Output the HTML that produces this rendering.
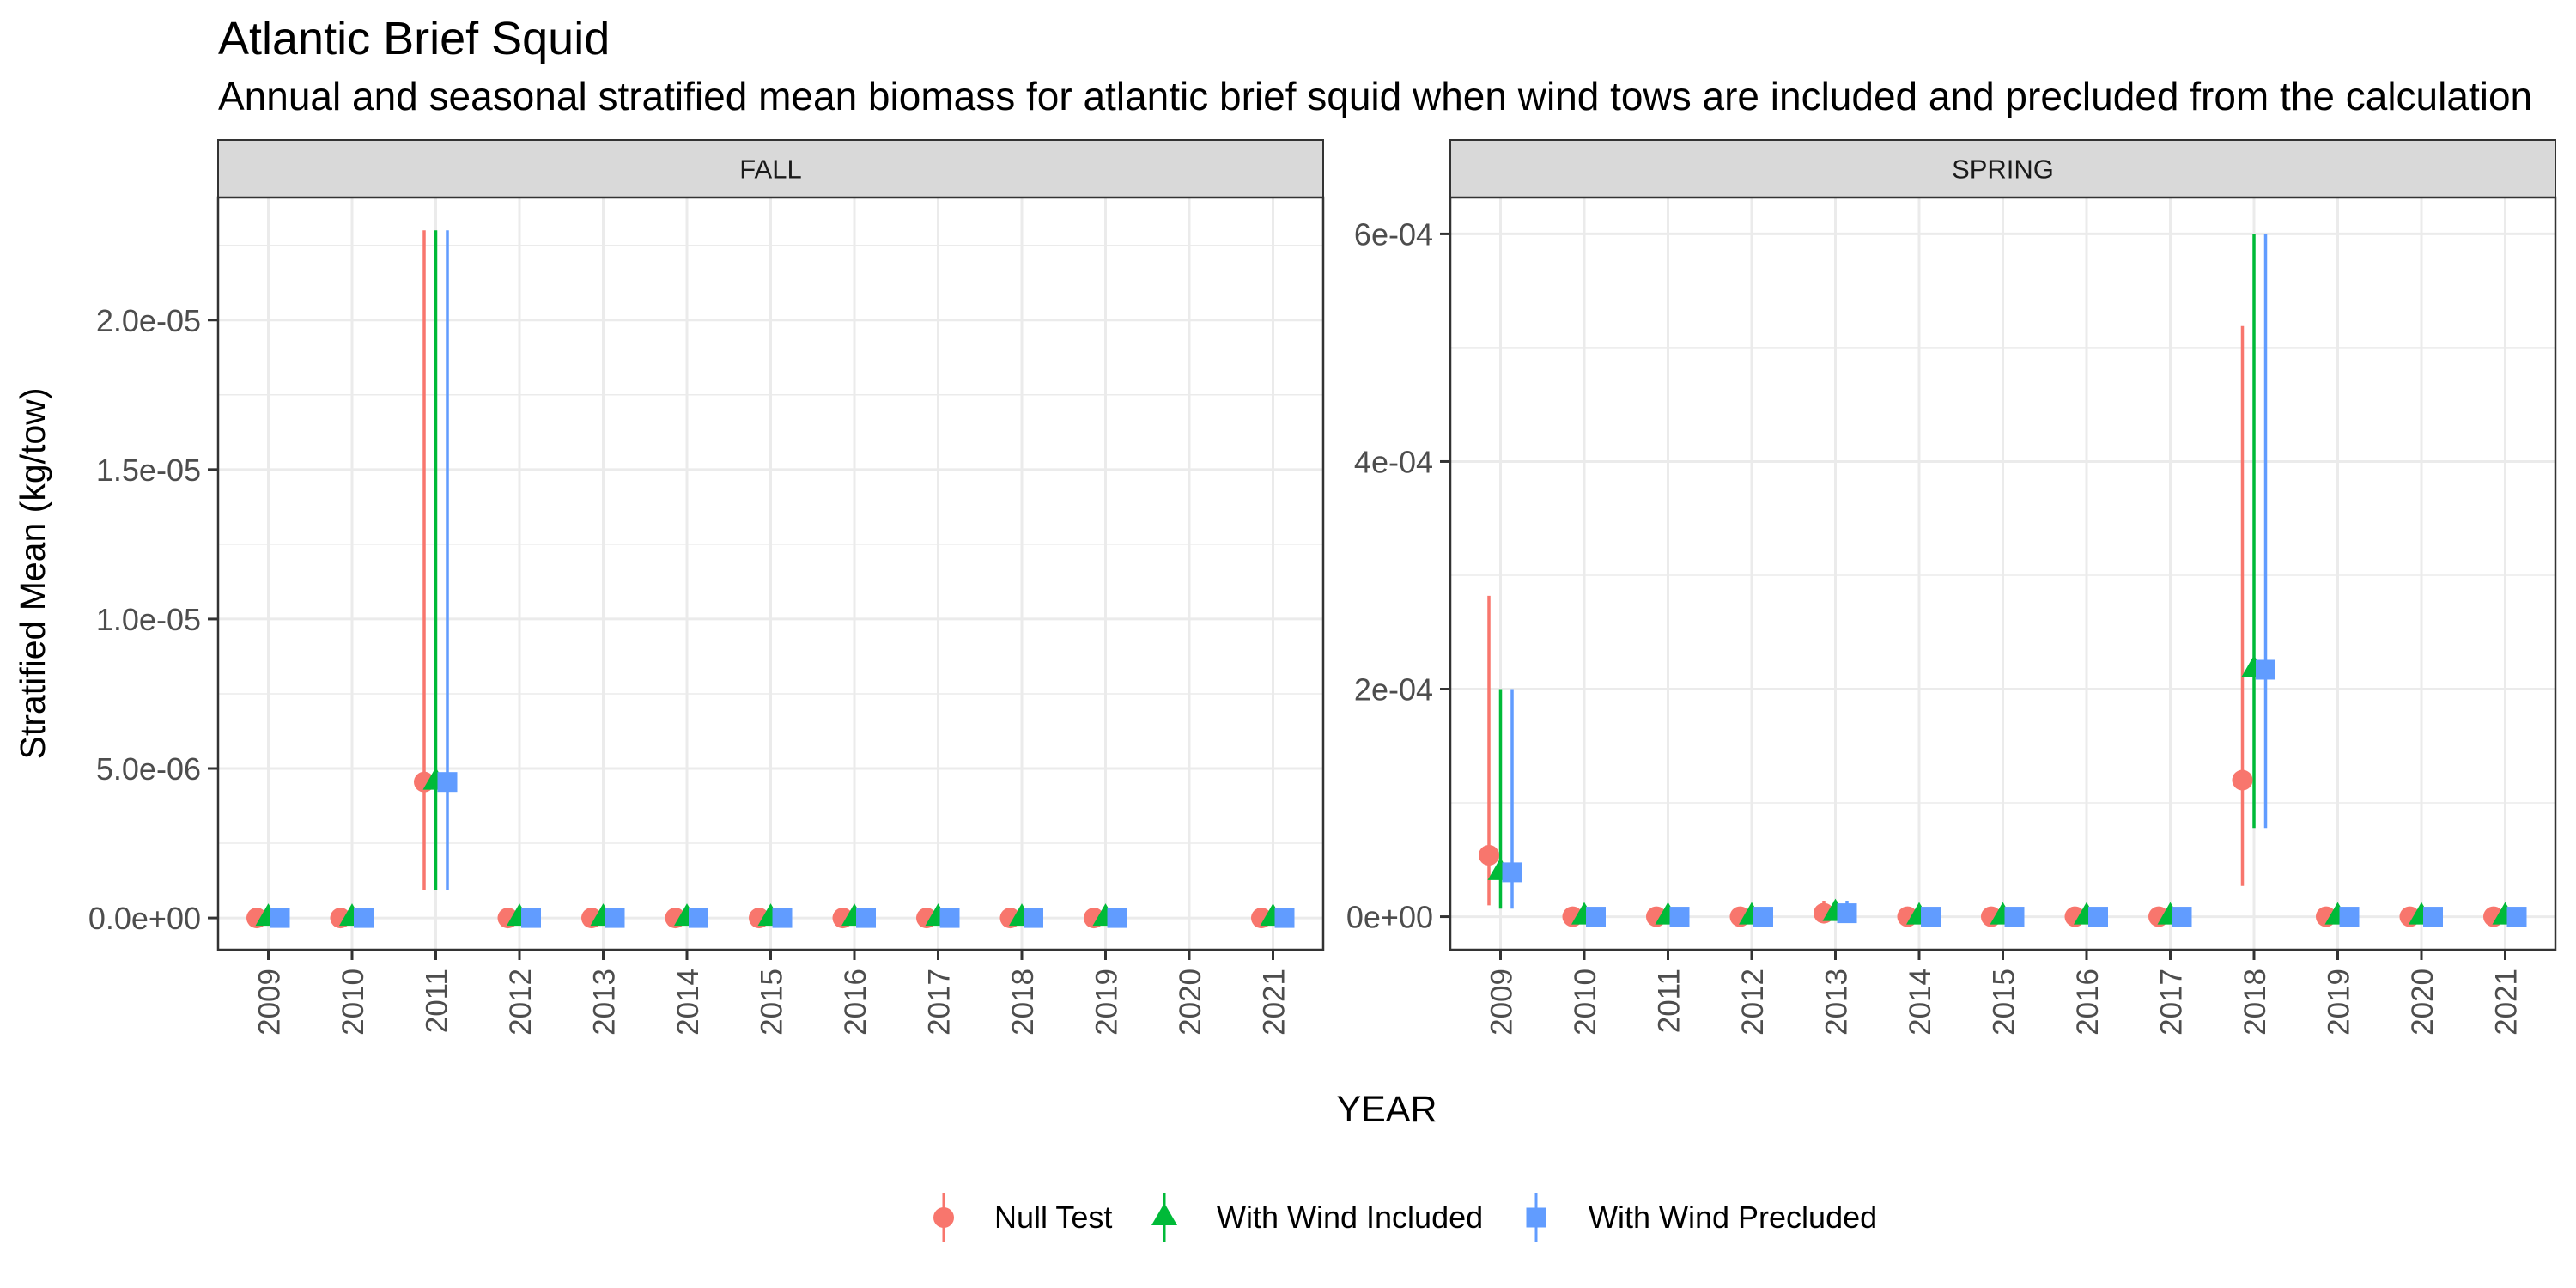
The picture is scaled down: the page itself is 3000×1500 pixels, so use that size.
<!DOCTYPE html>
<html><head><meta charset="utf-8">
<style>
html,body{margin:0;padding:0;background:#fff;}
svg{display:block;font-family:"Liberation Sans",Arial,sans-serif;}
</style></head>
<body>
<svg id="chart" width="3000" height="1500" viewBox="0 0 3000 1500" xmlns="http://www.w3.org/2000/svg">
<rect x="0" y="0" width="3000" height="1500" fill="#fff"/>
<text x="254" y="63" font-size="54" fill="#000">Atlantic Brief Squid</text>
<text x="254" y="128" font-size="46" fill="#000">Annual and seasonal stratified mean biomass for atlantic brief squid when wind tows are included and precluded from the calculation</text>
<text transform="translate(52,668) rotate(-90)" text-anchor="middle" font-size="41" fill="#000">Stratified Mean (kg/tow)</text>
<text x="1615" y="1306" text-anchor="middle" font-size="43" fill="#000">YEAR</text>
<g id="panels"></g>
<g id="legend"></g>
</svg>
<script>
const years = [2009,2010,2011,2012,2013,2014,2015,2016,2017,2018,2019,2020,2021];
const seriesNames = ["Null Test","With Wind Included","With Wind Precluded"];
const seriesColors = ["#F8766D","#00BA38","#619CFF"];
// FALL: mean, lower, upper per series (null = missing)
const fallNullMean = [0,0,4.55e-6,0,0,0,0,0,0,0,0,null,0];
const fallNullLo   = [0,0,0.92e-6,0,0,0,0,0,0,0,0,null,0];
const fallNullHi   = [0,0,2.30e-5,0,0,0,0,0,0,0,0,null,0];
const fallInclMean = [0,0,4.55e-6,0,0,0,0,0,0,0,0,null,0];
const fallInclLo   = [0,0,0.92e-6,0,0,0,0,0,0,0,0,null,0];
const fallInclHi   = [0,0,2.30e-5,0,0,0,0,0,0,0,0,null,0];
const fallPrecMean = [0,0,4.55e-6,0,0,0,0,0,0,0,0,null,0];
const fallPrecLo   = [0,0,0.92e-6,0,0,0,0,0,0,0,0,null,0];
const fallPrecHi   = [0,0,2.30e-5,0,0,0,0,0,0,0,0,null,0];
// SPRING
const springNullMean = [0.54e-4,0,0,0,0.03e-4,0,0,0,0,1.2e-4,0,0,0];
const springNullLo   = [0.10e-4,0,0,0,0,0,0,0,0,0.27e-4,0,0,0];
const springNullHi   = [2.82e-4,0,0,0,0.14e-4,0,0,0,0,5.19e-4,0,0,0];
const springInclMean = [0.39e-4,0,0,0,0.03e-4,0,0,0,0,2.17e-4,0,0,0];
const springInclLo   = [0.07e-4,0,0,0,0,0,0,0,0,0.78e-4,0,0,0];
const springInclHi   = [2.0e-4,0,0,0,0.14e-4,0,0,0,0,6.0e-4,0,0,0];
const springPrecMean = [0.39e-4,0,0,0,0.03e-4,0,0,0,0,2.17e-4,0,0,0];
const springPrecLo   = [0.07e-4,0,0,0,0,0,0,0,0,0.78e-4,0,0,0];
const springPrecHi   = [2.0e-4,0,0,0,0.14e-4,0,0,0,0,6.0e-4,0,0,0];
const fallTicks = [0,5e-6,1e-5,1.5e-5,2e-5];
const fallTickLabels = ["0.0e+00","5.0e-06","1.0e-05","1.5e-05","2.0e-05"];
const springTicks = [0,2e-4,4e-4,6e-4];
const springTickLabels = ["0e+00","2e-04","4e-04","6e-04"];

const NS="http://www.w3.org/2000/svg";
function mk(tag,attrs,parent){const e=document.createElementNS(NS,tag);for(const k in attrs)e.setAttribute(k,attrs[k]);if(parent)parent.appendChild(e);return e;}
const panelsG=document.getElementById('panels');

const panels=[
 {name:"FALL",slug:"fall",x0:254,x1:1541,ymin:-1.06e-6,ymax:2.41e-5,ticks:fallTicks,labels:fallTickLabels,
  mean:[fallNullMean,fallInclMean,fallPrecMean],lo:[fallNullLo,fallInclLo,fallPrecLo],hi:[fallNullHi,fallInclHi,fallPrecHi]},
 {name:"SPRING",slug:"spring",x0:1689,x1:2976,ymin:-0.29e-4,ymax:6.32e-4,ticks:springTicks,labels:springTickLabels,
  mean:[springNullMean,springInclMean,springPrecMean],lo:[springNullLo,springInclLo,springPrecLo],hi:[springNullHi,springInclHi,springPrecHi]}
];
const PT=230,PB=1106,ST=163;
panels.forEach(p=>{
 const g=mk('g',{},panelsG);
 
 
 const n=years.length, bw=(p.x1-p.x0)/(n-1+1.2);
 const xs=i=>p.x0+bw*(0.6+i);
 const ys=v=>PB-(v-p.ymin)/(p.ymax-p.ymin)*(PB-PT);
 const strip=mk('rect',{x:p.x0,y:ST,width:p.x1-p.x0,height:PT-ST,fill:'#d9d9d9',stroke:'#333','stroke-width':2},g);
 
 
 const st=mk('text',{x:(p.x0+p.x1)/2,y:(ST+PT)/2+11,'text-anchor':'middle','font-size':31,fill:'#1a1a1a'},g);
 st.textContent=p.name;
 
 
 for(let i=0;i<p.ticks.length;i++){
  const v=(i<p.ticks.length-1)?(p.ticks[i]+p.ticks[i+1])/2:p.ticks[i]+(p.ticks[1]-p.ticks[0])/2;
  if(v<p.ymax){const l=mk('line',{x1:p.x0,x2:p.x1,y1:ys(v),y2:ys(v),stroke:'#ebebeb','stroke-width':1.5},g);
  }
 }
 p.ticks.forEach((t,i)=>{
  const l=mk('line',{x1:p.x0,x2:p.x1,y1:ys(t),y2:ys(t),stroke:'#ebebeb','stroke-width':3},g);
  
  const tk=mk('line',{x1:p.x0-12,x2:p.x0,y1:ys(t),y2:ys(t),stroke:'#333','stroke-width':3},g);
  
  const tl=mk('text',{x:p.x0-20,y:ys(t)+13,'text-anchor':'end','font-size':36,fill:'#4d4d4d'},g);
  tl.textContent=p.labels[i];
  
 });
 years.forEach((yr,i)=>{
  const x=xs(i);
  const l=mk('line',{x1:x,x2:x,y1:PT,y2:PB,stroke:'#ebebeb','stroke-width':3},g);
  
  const tk=mk('line',{x1:x,x2:x,y1:PB,y2:PB+12,stroke:'#333','stroke-width':3},g);
  
  const tl=mk('text',{transform:`translate(${x+13},${PB+22}) rotate(-90)`,'text-anchor':'end','font-size':35,fill:'#4d4d4d'},g);
  tl.textContent=yr;
  
 });
 const offs=[-13.5,0,13.5];
 for(let s=0;s<3;s++){
  years.forEach((yr,i)=>{
   const m=p.mean[s][i]; if(m===null) return;
   const x=xs(i)+offs[s], c=seriesColors[s];
   const eb=mk('line',{x1:x,x2:x,y1:ys(p.lo[s][i]),y2:ys(p.hi[s][i]),stroke:c,'stroke-width':3.5},g);
   
   
  });
 }
 for(let s=0;s<3;s++){
  years.forEach((yr,i)=>{
   const m=p.mean[s][i]; if(m===null) return;
   const x=xs(i)+offs[s], y=ys(m), c=seriesColors[s];
   let pt;
   if(s===0) pt=mk('circle',{cx:x,cy:y,r:12,fill:c},g);
   else if(s===1) pt=mk('polygon',{points:`${x},${y-17} ${x-15},${y+9} ${x+15},${y+9}`,fill:c},g);
   else pt=mk('rect',{x:x-11.5,y:y-11.5,width:23,height:23,fill:c},g);
   
   
  });
 }
 const b=mk('rect',{x:p.x0,y:PT,width:p.x1-p.x0,height:PB-PT,fill:'none',stroke:'#333','stroke-width':2.5},g);
 
 
});
const lg=document.getElementById('legend');
const lx=[1099,1356,1789], tx=[1158,1417,1850], LY=1418;
seriesNames.forEach((nm,s)=>{
 const e=mk('g',{},lg);
 
 
 const c=seriesColors[s],x=lx[s];
 mk('line',{x1:x,x2:x,y1:LY-29,y2:LY+29,stroke:c,'stroke-width':3},e);
 if(s===0) mk('circle',{cx:x,cy:LY,r:12,fill:c},e);
 else if(s===1) mk('polygon',{points:`${x},${LY-17} ${x-15},${LY+9} ${x+15},${LY+9}`,fill:c},e);
 else mk('rect',{x:x-11.5,y:LY-11.5,width:23,height:23,fill:c},e);
 const t=mk('text',{x:tx[s],y:LY+12,'font-size':36,fill:'#000'},e);
 t.textContent=nm;
});
</script>
</body></html>
